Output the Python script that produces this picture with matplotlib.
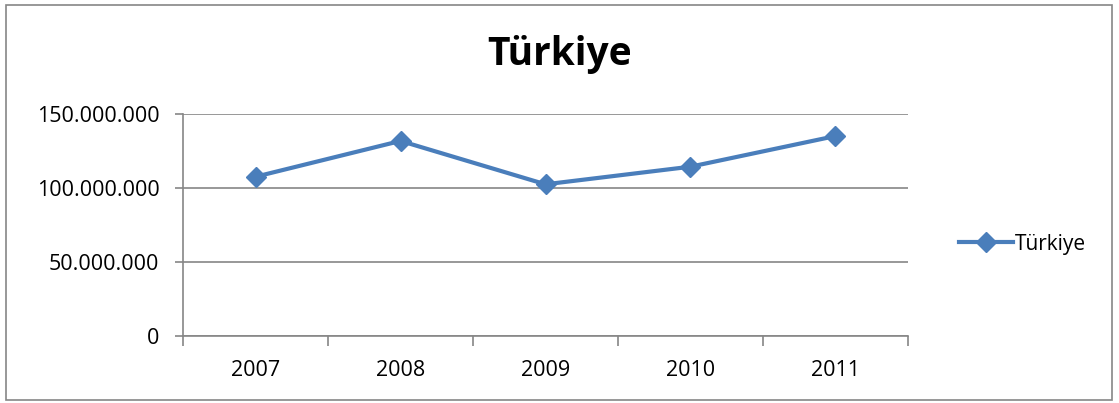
import matplotlib.pyplot as plt
from matplotlib.patches import Rectangle
from matplotlib.ticker import FuncFormatter

years = ["2007", "2008", "2009", "2010", "2011"]
values = [107800000, 132000000, 102700000, 114600000, 135300000]
yticks = [0, 50000000, 100000000, 150000000]

blue = "#4a7ebb"
gray = "#868686"

plt.rcParams['font.family'] = ['Open Sans', 'DejaVu Sans']

fig = plt.figure(figsize=(11.19, 4.03), dpi=100)
ax = fig.add_axes([183 / 1119, 1 - 336.3 / 403, 725 / 1119, 222 / 403])

x = list(range(len(years)))
ax.plot(x, values, color=blue, lw=3, marker="D", markersize=10.5,
        label="Türkiye", zorder=3)

ax.set_xlim(-0.5, len(years) - 0.5)
ax.set_ylim(0, 150000000)
ax.set_yticks(yticks)
ax.yaxis.set_major_formatter(FuncFormatter(lambda v, p: f"{int(v):,}".replace(",", ".")))
ax.set_xticks(x)
ax.set_xticklabels(years)
ax.set_xticks([i - 0.5 for i in range(len(years) + 1)], minor=True)

ax.grid(axis="y", color=gray, lw=1.2)
ax.set_axisbelow(True)
for s in ["top", "right"]:
    ax.spines[s].set_visible(False)
for s in ["left", "bottom"]:
    ax.spines[s].set_color(gray)
    ax.spines[s].set_linewidth(1.2)

ax.tick_params(axis="x", which="major", length=0, pad=17, labelsize=15.5)
ax.tick_params(axis="x", which="minor", length=7, color=gray, width=1.2)
ax.tick_params(axis="y", length=6, color=gray, width=1.2, pad=11, labelsize=15.5)

fig.text(560 / 1119, 1 - 55 / 403, "Türkiye", ha="center", va="center",
         fontsize=28, fontweight="bold")

fig.legend(loc="center left", bbox_to_anchor=(940 / 1119, 1 - 244 / 403),
           frameon=False, fontsize=15, handlelength=2.6, handletextpad=0.1)

fig.patches.append(Rectangle((6 / 1119, 3 / 403), 1106 / 1119, 395 / 403,
                             transform=fig.transFigure, fill=False,
                             edgecolor=gray, lw=1.2))

fig.savefig("out.png", dpi=100)
